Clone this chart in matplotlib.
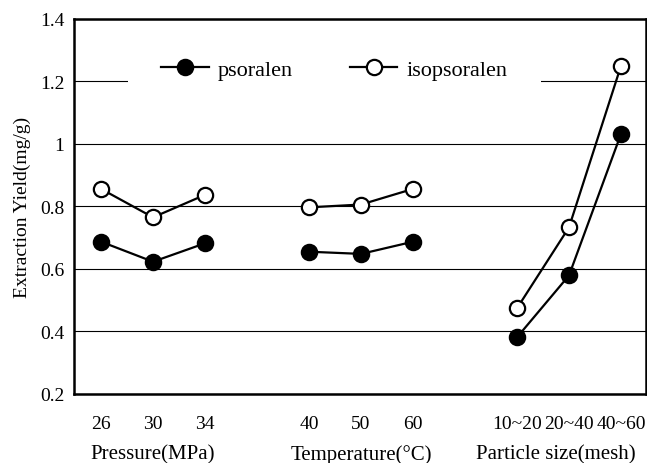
import numpy as np
import matplotlib
matplotlib.use('Agg')
import matplotlib.pyplot as plt
import matplotlib.transforms as mtransforms

plt.rcParams['font.family'] = ['Liberation Serif', 'DejaVu Serif']

# data
tick_labels = ['26', '30', '34', '40', '50', '60', '10~20', '20~40', '40~60']
groups = ['Pressure(MPa)', 'Temperature(°C)', 'Particle size(mesh)']
psoralen = [[0.687, 0.623, 0.682], [0.655, 0.648, 0.687], [0.381, 0.579, 1.032]]
isopsoralen = [[0.856, 0.765, 0.837], [0.797, 0.806, 0.856], [0.474, 0.733, 1.25]]

fig = plt.figure(figsize=(6.47, 4.64), dpi=100)
ax = fig.add_axes([0.1144, 0.149, 0.884, 0.808])

for g in range(3):
    xs = np.arange(3) + 1 + 4 * g
    ax.plot(xs, psoralen[g], color='black', lw=1.6, marker='o', ms=11,
            mfc='black', mec='black', mew=1.6,
            label='psoralen' if g == 0 else None, zorder=3)
    ax.plot(xs, isopsoralen[g], color='black', lw=1.6, marker='o', ms=11,
            mfc='white', mec='black', mew=1.6,
            label='isopsoralen' if g == 0 else None, zorder=3)

xticks = [1, 2, 3, 5, 6, 7, 9, 10, 11]
ax.set_xticks(xticks)
ax.set_xticklabels(tick_labels, fontsize=14)
ax.set_xlim(0.48, 11.48)
ax.set_ylim(0.2, 1.4)
ax.set_yticks([0.2, 0.4, 0.6, 0.8, 1.0, 1.2, 1.4])
ax.set_yticklabels(['0.2', '0.4', '0.6', '0.8', '1', '1.2', '1.4'], fontsize=14)
ax.tick_params(axis='both', length=0)
ax.tick_params(axis='x', pad=15)
ax.tick_params(axis='y', pad=7)
ax.grid(axis='y', color='black', lw=0.8)
ax.set_axisbelow(True)
for s in ax.spines.values():
    s.set_linewidth(1.8)

ax.set_ylabel('Extraction Yield(mg/g)', fontsize=14, labelpad=6)

# group captions under the tick labels
trans = mtransforms.blended_transform_factory(ax.transData, fig.transFigure)
for xc, name in zip([2, 6, 9.75], groups):
    ax.text(xc, 0.0194, name, transform=trans, ha='center', va='center',
            fontsize=15)

leg = ax.legend(loc='center', bbox_to_anchor=(0.455, 0.864), ncol=2,
                frameon=True, fontsize=16, handlelength=2.15, handletextpad=0.4,
                columnspacing=2.55, borderpad=1.5, borderaxespad=0)
leg.get_frame().set_facecolor('white')
leg.get_frame().set_edgecolor('none')
leg.get_frame().set_alpha(1)
leg.set_zorder(5)

fig.savefig('out.png', dpi=100)
